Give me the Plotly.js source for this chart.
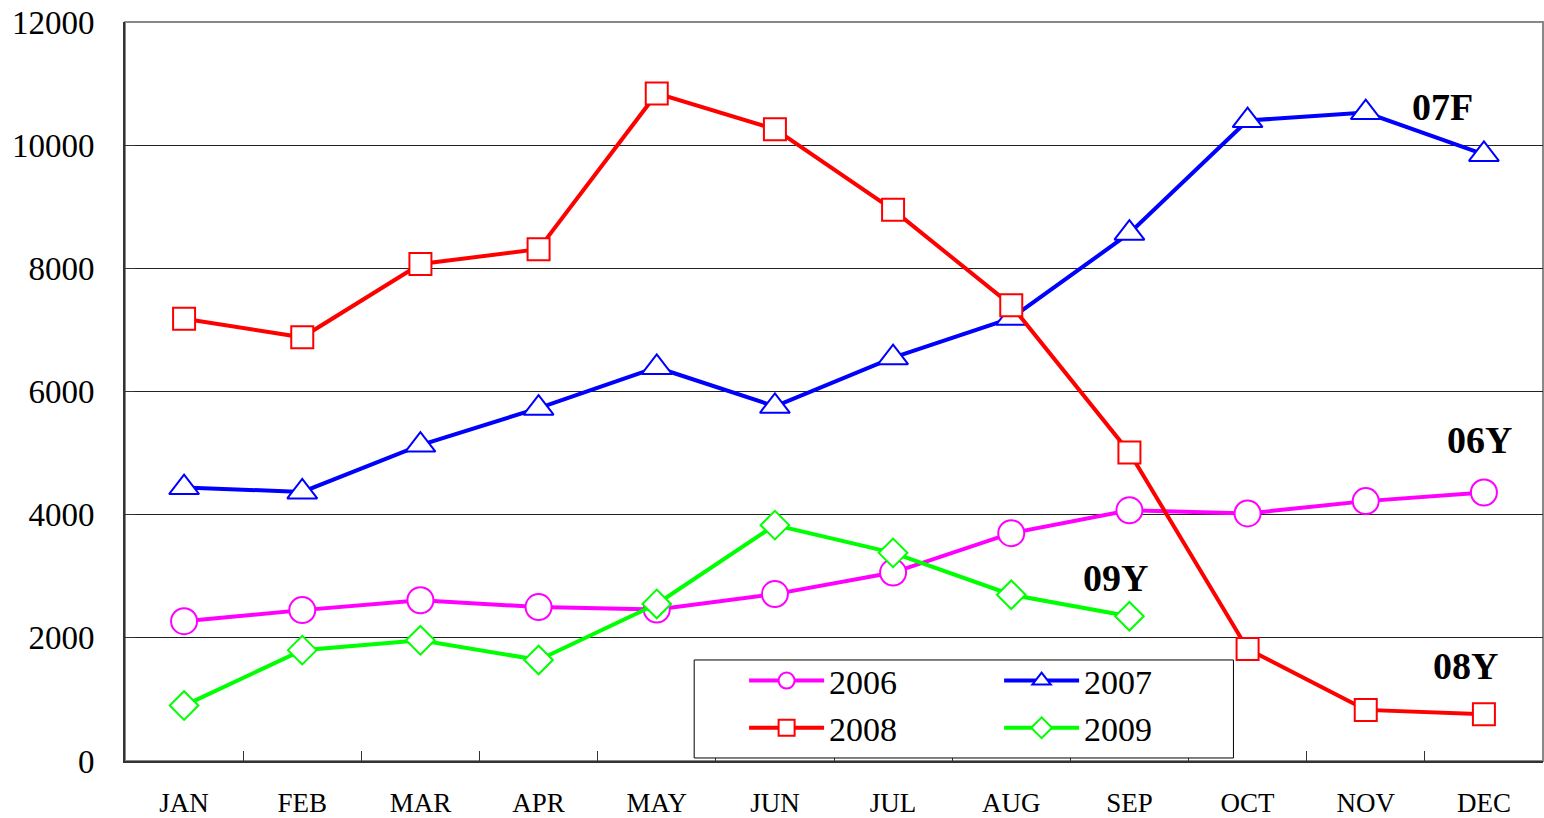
<!DOCTYPE html>
<html>
<head>
<meta charset="utf-8">
<script src="https://cdn.plot.ly/plotly-3.0.1.min.js"></script>
<style>html,body{margin:0;padding:0;background:#fff;}#chart{width:1544px;height:818px;}</style>
</head>
<body>
<div id="chart"></div>
<script>
const months = ['JAN','FEB','MAR','APR','MAY','JUN','JUL','AUG','SEP','OCT','NOV','DEC'];
const s2006 = [2270, 2450, 2610, 2500, 2460, 2710, 3060, 3700, 4070, 4020, 4220, 4360];
const s2007 = [4440, 4370, 5130, 5730, 6390, 5760, 6550, 7190, 8570, 10400, 10530, 9850];
const s2008 = [7180, 6880, 8070, 8310, 10840, 10260, 8950, 7400, 5010, 1820, 830, 760];
const s2009 = [900, 1800, 1960, 1640, 2550, 3830, 3380, 2700, 2350];
const seriesNames = ['2006', '2007', '2008', '2009'];
const annoTexts = ['07F', '06Y', '09Y', '08Y'];

const serif = "'Liberation Serif', 'Times New Roman', serif";

function tr(name, y, color, symbol, size, group) {
  return {
    type: 'scatter', mode: 'lines+markers', name: name,
    x: months.slice(0, y.length), y: y,
    legendgroup: group,
    line: {color: color, width: 4},
    marker: {symbol: symbol, size: size, color: '#ffffff', line: {color: color, width: 2}},
    cliponaxis: false
  };
}

const data = [
  tr(seriesNames[0], s2006, '#ff00ff', 'circle', 26, 'a'),
  tr(seriesNames[1], s2007, '#0000ff', 'triangle-up', 26, 'b'),
  tr(seriesNames[2], s2008, '#ff0000', 'square', 22, 'a'),
  tr(seriesNames[3], s2009, '#00ff00', 'diamond', 22, 'b')
];

const layout = {
  width: 1544, height: 818,
  margin: {l: 125, r: 1, t: 22, b: 57},
  paper_bgcolor: '#ffffff', plot_bgcolor: '#ffffff',
  font: {family: serif, color: '#000'},
  showlegend: true,
  legend: {
    orientation: 'h', traceorder: 'grouped',
    x: 0.4366, y: 0.1475, xanchor: 'left', yanchor: 'top',
    borderwidth: 0, bgcolor: 'rgba(0,0,0,0)',
    font: {family: serif, size: 34, color: '#000'},
    itemwidth: 75, entrywidth: 165, tracegroupgap: 0
  },
  xaxis: {
    type: 'category', range: [-0.5, 11.5], fixedrange: true,
    showline: true, linecolor: '#333', linewidth: 2,
    ticks: 'inside', ticklen: 10, tickcolor: '#333', tickwidth: 1,
    tickson: 'boundaries', showgrid: false, zeroline: false,
    tickfont: {family: serif, size: 27, color: '#000'},
    ticklabelstandoff: 17
  },
  yaxis: {
    range: [0, 12000], dtick: 2000, tickformat: 'd', fixedrange: true,
    showline: true, linecolor: '#333', linewidth: 2,
    ticks: 'inside', ticklen: 10, tickcolor: '#333', tickwidth: 1,
    showgrid: true, gridcolor: '#222', gridwidth: 1, zeroline: false,
    tickfont: {family: serif, size: 33, color: '#000'},
    ticklabelstandoff: 22
  },
  shapes: [{
    type: 'rect', xref: 'paper', yref: 'paper', x0: 0, x1: 1, y0: 0, y1: 1,
    line: {color: '#888', width: 2}, layer: 'below'
  }, {
    type: 'rect', xref: 'paper', yref: 'paper', x0: 0.4014, x1: 0.7817, y0: 0.0041, y1: 0.1367,
    line: {color: '#000', width: 1}, fillcolor: '#ffffff', layer: 'above'
  }],
  annotations: [
    {text: annoTexts[0], x: 0.9289, y: 0.885},
    {text: annoTexts[1], x: 0.955, y: 0.4344},
    {text: annoTexts[2], x: 0.6986, y: 0.2476},
    {text: annoTexts[3], x: 0.945, y: 0.1286}
  ].map(a => Object.assign({xref: 'paper', yref: 'paper', showarrow: false,
    xanchor: 'center', yanchor: 'middle',
    font: {family: serif, size: 38, color: '#000', weight: 'bold'}}, a))
};

Plotly.newPlot('chart', data, layout, {displayModeBar: false, staticPlot: true});
</script>
</body>
</html>
